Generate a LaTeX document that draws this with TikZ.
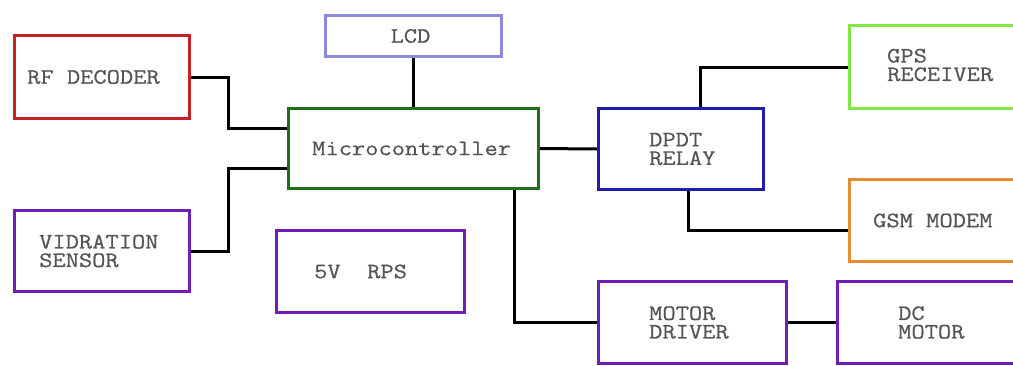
\documentclass[tikz,border=0pt]{standalone}
\usepackage{fontspec}
\setmonofont[FakeStretch=1.17, FakeBold=0.6]{Latin Modern Mono}
\usepackage{tikz}
\usetikzlibrary{positioning, calc}
\usepackage{xcolor}
\definecolor{rfred}{RGB}{200,32,40}
\definecolor{lcdblue}{RGB}{140,140,220}
\definecolor{mcugreen}{RGB}{30,110,30}
\definecolor{modpurple}{RGB}{110,30,180}
\definecolor{relayblue}{RGB}{30,30,170}
\definecolor{gpsgreen}{RGB}{130,230,70}
\definecolor{gsmorange}{RGB}{230,140,50}
\definecolor{textgray}{RGB}{85,85,85}

\begin{document}
\begin{tikzpicture}[
    x=1pt, y=-1pt,
    block/.style={rectangle, line width=3pt, anchor=north west, inner sep=0pt},
    blocktext/.style={anchor=west, inner sep=0pt, align=left, text=textgray, font=\ttfamily\fontsize{22}{18.5}\selectfont},
    wire/.style={draw=black, line width=3pt},
]
    \useasboundingbox (0,0) rectangle (1013,365);
    \clip (0,0) rectangle (1013,365);

    \node[block, draw=rfred, minimum width=175pt, minimum height=83pt] (rf) at (13,34) {};
    \node[block, draw=lcdblue, minimum width=176pt, minimum height=41pt] (lcd) at (324,14) {};
    \node[block, draw=mcugreen, minimum width=250pt, minimum height=80pt] (mcu) at (287,107) {};
    \node[block, draw=modpurple, minimum width=175pt, minimum height=81pt] (vib) at (13,209) {};
    \node[block, draw=modpurple, minimum width=188pt, minimum height=82pt] (rps) at (275,229) {};
    \node[block, draw=relayblue, minimum width=165pt, minimum height=81pt] (relay) at (597,107) {};
    \node[block, draw=gpsgreen, minimum width=200pt, minimum height=83pt] (gps) at (848,24) {};
    \node[block, draw=gsmorange, minimum width=200pt, minimum height=82pt] (gsm) at (848,178) {};
    \node[block, draw=modpurple, minimum width=188pt, minimum height=82pt] (driver) at (597,280) {};
    \node[block, draw=modpurple, minimum width=200pt, minimum height=82pt] (motor) at (836,280) {};

    \node[blocktext] (rf-t) at ([xshift=14pt]rf.west) {RF DECODER};
    \node[blocktext, anchor=center] (lcd-t) at ([xshift=-3pt]lcd.center) {LCD};
    \node[blocktext] (mcu-t) at ([xshift=25pt]mcu.west) {Microcontroller};
    \node[blocktext] (vib-t) at ([xshift=26pt]vib.west) {VIDRATION\\SENSOR};
    \node[blocktext] (rps-t) at ([xshift=39pt]rps.west) {5V\ \ RPS};
    \node[blocktext] (relay-t) at ([xshift=52pt]relay.west) {DPDT\\RELAY};
    \node[blocktext] (gps-t) at ([xshift=39pt,yshift=2pt]gps.west) {GPS\\RECEIVER};
    \node[blocktext] (gsm-t) at ([xshift=25pt]gsm.west) {GSM MODEM};
    \node[blocktext] (driver-t) at ([xshift=52pt]driver.west) {MOTOR\\DRIVER};
    \node[blocktext] (motor-t) at ([xshift=62pt]motor.west) {DC\\MOTOR};

    \draw[wire] (rf.east) -- ++(37,0) |- ([yshift=20pt]mcu.west);
    \draw[wire] (vib.east) -- ++(37,0) |- ([yshift=-20pt]mcu.west);
    \draw[wire] (lcd.south) -- (lcd.south |- mcu.north);
    \draw[wire] (mcu.east) -- (relay.west);
    \draw[wire] ([xshift=101pt]mcu.south) |- (driver.west);
    \draw[wire] ([xshift=19pt]relay.north) |- (gps.west);
    \draw[wire] ([xshift=7pt]relay.south) |- ([yshift=-10pt]gsm.west);
    \draw[wire] (driver.east) -- (motor.west);
\end{tikzpicture}
\end{document}
